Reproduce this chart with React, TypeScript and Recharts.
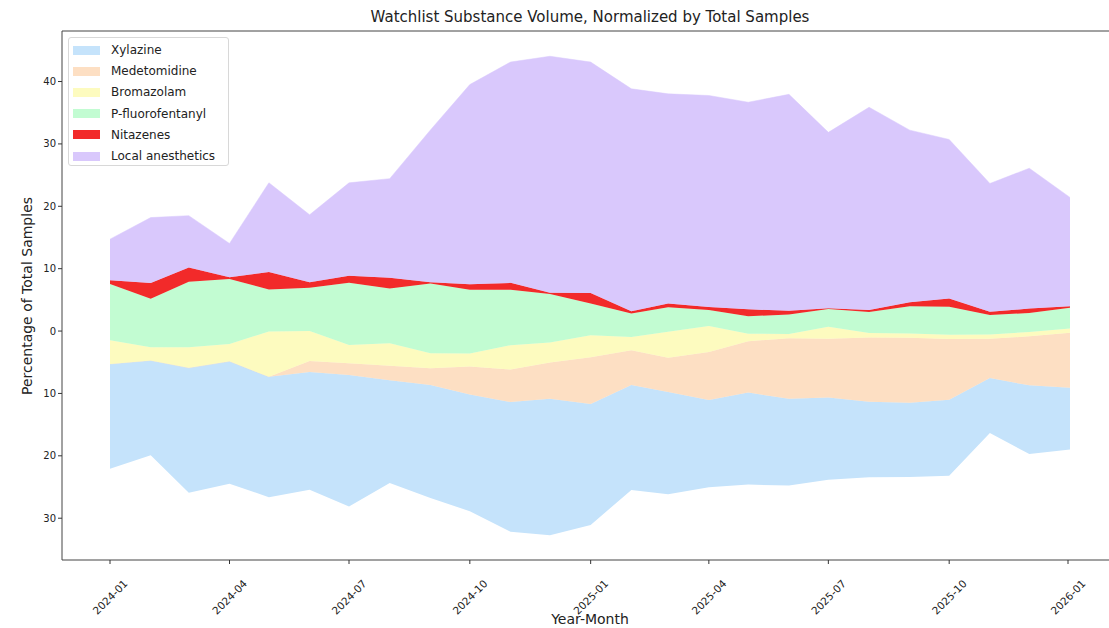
import React from "react";
import { AreaChart, Area, XAxis, YAxis, ReferenceLine } from "recharts";

const months = [
  "2024-01", "2024-02", "2024-03", "2024-04", "2024-05", "2024-06", "2024-07", "2024-08", "2024-09",
  "2024-10", "2024-11", "2024-12", "2025-01", "2025-02", "2025-03", "2025-04", "2025-05", "2025-06",
  "2025-07", "2025-08", "2025-09", "2025-10", "2025-11", "2025-12", "2026-01",
];

const xylazine = [16.8, 15.2, 20.0, 19.6, 19.3, 18.9, 21.1, 16.5, 18.1, 18.7, 20.8, 21.9, 19.4, 16.8, 16.4, 14.0, 14.75, 13.9, 13.2, 12.1, 11.9, 12.2, 8.8, 11.0, 9.9];
const medetomidine = [0, 0, 0, 0, 0, 1.75, 1.9, 2.3, 2.7, 4.5, 5.2, 5.8, 7.5, 5.6, 5.5, 7.7, 8.25, 9.7, 9.4, 10.3, 10.4, 9.7, 6.3, 7.85, 8.8];
const bromazolam = [3.8, 2.1, 3.3, 2.8, 7.25, 4.8, 2.9, 3.6, 2.4, 2.1, 3.9, 3.2, 3.5, 2.1, 4.15, 4.15, 1.2, 0.7, 1.95, 0.7, 0.7, 0.7, 0.7, 0.7, 0.7];
const pFluorofentanyl = [9.0, 7.8, 10.5, 10.4, 6.75, 6.95, 10.0, 8.8, 11.2, 10.2, 8.9, 7.8, 5.1, 3.8, 3.95, 2.55, 2.8, 3.1, 2.85, 3.4, 4.35, 4.5, 3.1, 3.05, 3.3];
const nitazenes = [0.6, 2.5, 2.3, 0.3, 2.8, 0.9, 1.1, 1.7, 0.2, 0.9, 1.1, 0.2, 1.7, 0.35, 0.6, 0.5, 1.1, 0.6, 0.1, 0.3, 0.65, 1.3, 0.55, 0.7, 0.25];
const localAnesthetics = [6.6, 10.5, 8.3, 5.4, 14.3, 10.8, 14.9, 15.9, 24.4, 32.0, 35.4, 37.9, 37.0, 35.65, 33.6, 33.9, 33.2, 34.7, 28.2, 32.5, 27.6, 25.5, 20.55, 22.5, 17.45];

const seriesNames = ["Xylazine", "Medetomidine", "Bromazolam", "P-fluorofentanyl", "Nitazenes", "Local anesthetics"];
const seriesValues = [xylazine, medetomidine, bromazolam, pFluorofentanyl, nitazenes, localAnesthetics];
const seriesColors = ["#c5e3fb", "#fddfc3", "#fdfbbf", "#c2fcd2", "#f22a2a", "#d9c8fc"];

const xTickLabels = ["2024-01", "2024-04", "2024-07", "2024-10", "2025-01", "2025-04", "2025-07", "2025-10", "2026-01"];
const yTicks = [-30, -20, -10, 0, 10, 20, 30, 40];

const toTime = (ym: string) => {
  const [y, mo] = ym.split("-").map(Number);
  return Date.UTC(y, mo - 1, 1);
};

const m = seriesValues.length;

// matplotlib stackplot baseline="wiggle"
const data = months.map((mo, j) => {
  let g0 = 0;
  seriesValues.forEach((vals, i) => {
    g0 += (m - 0.5 - i) * vals[j];
  });
  g0 = -g0 / m;
  const row: Record<string, number | string> = { t: toTime(mo), month: mo, base: g0 };
  seriesNames.forEach((n, i) => {
    row[n] = seriesValues[i][j];
  });
  return row;
});

const t0 = toTime(months[0]);
const t1 = toTime(months[months.length - 1]);
const pad = (t1 - t0) * 0.05;
const xDomain = [t0 - pad, t1 + pad];
const Y_MIN = -36.7;
const Y_MAX = 48.1;

const font = "'DejaVu Sans', sans-serif";

const XTick = (props: any) => {
  const { x, y, payload } = props;
  const d = new Date(payload.value);
  const label = `${d.getUTCFullYear()}-${String(d.getUTCMonth() + 1).padStart(2, "0")}`;
  const cy = y + 37;
  return (
    <g>
      <line x1={x} y1={y} x2={x} y2={y + 4} stroke="#333" strokeWidth={1} />
      <text
        x={x}
        y={cy}
        textAnchor="middle"
        dominantBaseline="central"
        transform={`rotate(-45, ${x}, ${cy})`}
        fontSize={10.5}
        fontFamily={font}
        fill="#222"
      >
        {label}
      </text>
    </g>
  );
};

const LegendBox = () => (
  <div
    style={{
      position: "absolute",
      left: 68,
      top: 37,
      width: 161,
      height: 129,
      border: "1px solid #d8d8d8",
      borderRadius: 3,
      background: "rgba(255,255,255,0.85)",
      boxSizing: "border-box",
      fontFamily: font,
      fontSize: 12,
      color: "#222",
    }}
  >
    {seriesNames.map((n, i) => (
      <div key={n} style={{ position: "absolute", left: 4, top: 4 + i * 21.2, height: 16, display: "flex", alignItems: "center" }}>
        <div style={{ width: 27, height: 9, background: seriesColors[i], marginRight: 11 }} />
        <span style={{ whiteSpace: "nowrap" }}>{n}</span>
      </div>
    ))}
  </div>
);

export default function App() {
  return (
    <div style={{ position: "absolute", left: 0, top: 0, width: 1109, height: 628, overflow: "hidden", background: "#fff" }}>
      <AreaChart width={1120} height={628} data={data} margin={{ top: 31, right: 2, left: 0, bottom: 0 }}>
        <XAxis
          dataKey="t"
          type="number"
          domain={xDomain}
          ticks={xTickLabels.map(toTime)}
          tick={<XTick />}
          tickLine={false}
          tickSize={0}
          tickMargin={0}
          axisLine={{ stroke: "#444", strokeWidth: 1 }}
          height={68}
          allowDataOverflow
        />
        <YAxis
          type="number"
          domain={[Y_MIN, Y_MAX]}
          ticks={yTicks}
          tickFormatter={(v: number) => String(Math.abs(v))}
          tick={{ fontSize: 10, fontFamily: font, fill: "#222" }}
          tickLine={{ stroke: "#333" }}
          tickSize={4}
          axisLine={{ stroke: "#444", strokeWidth: 1 }}
          width={62}
          allowDataOverflow
        />
        <Area
          type="linear"
          dataKey="base"
          stackId="s"
          fill="transparent"
          fillOpacity={0}
          stroke="none"
          isAnimationActive={false}
          legendType="none"
          activeDot={false}
        />
        {seriesNames.map((n, i) => (
          <Area
            key={n}
            type="linear"
            dataKey={n}
            stackId="s"
            fill={seriesColors[i]}
            fillOpacity={1}
            stroke={seriesColors[i]}
            strokeWidth={0.5}
            isAnimationActive={false}
            activeDot={false}
          />
        ))}
        <ReferenceLine y={Y_MAX} stroke="#444" strokeWidth={1} ifOverflow="extendDomain" />
      </AreaChart>
      <LegendBox />
      <div
        style={{
          position: "absolute",
          left: 62,
          width: 1056,
          top: 8,
          textAlign: "center",
          fontFamily: font,
          fontSize: 15,
          color: "#222",
          whiteSpace: "nowrap",
        }}
      >
        Watchlist Substance Volume, Normalized by Total Samples
      </div>
      <div
        style={{
          position: "absolute",
          left: 62,
          width: 1056,
          top: 611,
          textAlign: "center",
          fontFamily: font,
          fontSize: 14,
          color: "#222",
          whiteSpace: "nowrap",
        }}
      >
        Year-Month
      </div>
      <div
        style={{
          position: "absolute",
          left: 27,
          top: 296,
          transform: "translate(-50%, -50%) rotate(-90deg)",
          fontFamily: font,
          fontSize: 14,
          color: "#222",
          whiteSpace: "nowrap",
        }}
      >
        Percentage of Total Samples
      </div>
    </div>
  );
}
